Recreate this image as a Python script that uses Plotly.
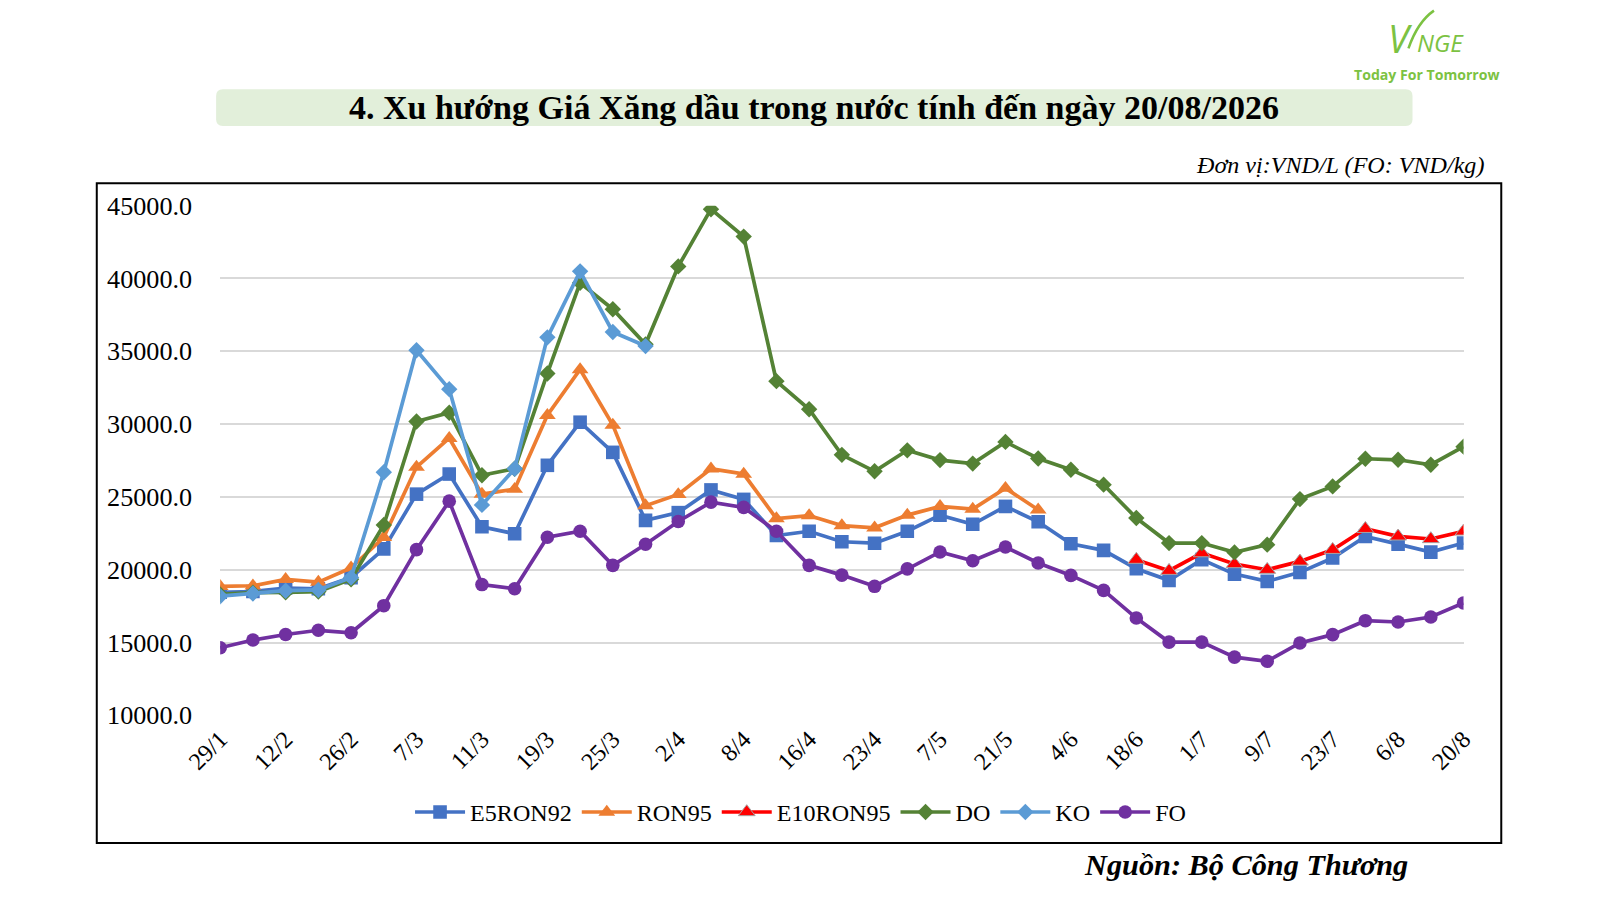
"""Xu hướng giá xăng dầu trong nước — biểu đồ đường"""

import plotly.graph_objects as go

W, H = 1600, 900

TICK_LABELS = ['29/1', '12/2', '26/2', '7/3', '11/3', '19/3', '25/3', '2/4', '8/4', '16/4',
               '23/4', '7/5', '21/5', '4/6', '18/6', '1/7', '9/7', '23/7', '6/8', '20/8']

E5RON92 = [18450, 18500, 18740, 18690, 19460, 21430, 25190, 26570, 22950, 22470,
           27170, 30130, 28060, 23390, 23920, 25480, 24830, 22350, 22640, 21920,
           21820, 22640, 23750, 23120, 24350, 23290, 21780, 21330, 20070, 19270,
           20690, 19700, 19200, 19820, 20800, 22290, 21760, 21210, 21830]

RON95 = [18860, 18900, 19340, 19150, 20130, 22230, 27050, 29030, 25190, 25530,
         30610, 33750, 29940, 24400, 25170, 26930, 26570, 23510, 23720, 23030,
         22880, 23750, 24350, 24160, 25600, 24120] + [None] * 13

E10RON95 = [None] * 28 + [20690, 19930, 21140, 20390, 20000, 20570, 21370, 22810,
                          22290, 22110, 22630]

DO = [18300, 18420, 18450, 18500, 19340, 23070, 30180, 30780, 26490, 26930,
      33480, 39700, 37890, 35480, 40830, 44760, 42880, 32950, 31020, 27890,
      26760, 28200, 27530, 27290, 28780, 27640, 26870, 25840, 23550, 21830,
      21830, 21190, 21720, 24850, 25720, 27620, 27550, 27210, 28450]

KO = [18180, 18370, 18560, 18610, 19460, 26690, 35070, 32400, 24450, 26930,
      35960, 40490, 36330, 35360] + [None] * 25

FO = [14640, 15170, 15550, 15840, 15670, 17530, 21380, 24710, 18980, 18690,
      22230, 22640, 20300, 21750, 23310, 24640, 24280, 22640, 20300, 19630,
      18860, 20060, 21220, 20620, 21560, 20460, 19610, 18580, 16680, 15030,
      15030, 14000, 13710, 14970, 15540, 16500, 16410, 16750, 17710]

SERIF = 'Liberation Serif'
GREEN = '#7cc242'

# hệ số hiệu chỉnh khung ảnh chụp
SX, OX, SY, OY = 0.9504, 36.4, 0.9476, 14.3


def px(x):
    return (x - OX) / SX / W


def py(y):
    return 1 - (y - OY) / SY / H


def fs(size):
    return round(size / 0.956, 1)


SERIES = [
    ('E5RON92', E5RON92, '#4472c4', dict(symbol='square', size=fs(13))),
    ('RON95', RON95, '#ed7d31', dict(symbol='triangle-up', size=fs(14))),
    ('E10RON95', E10RON95, '#ff0000', dict(symbol='triangle-up', size=fs(14),
                                           line=dict(color='#a5a5a5', width=1))),
    ('DO', DO, '#548235', dict(symbol='diamond', size=fs(12))),
    ('KO', KO, '#5b9bd5', dict(symbol='diamond', size=fs(12))),
    ('FO', FO, '#7030a0', dict(symbol='circle', size=fs(13))),
]

x_idx = list(range(len(E5RON92)))

fig = go.Figure()

for name, values, color, marker in SERIES:
    fig.add_trace(go.Scatter(
        x=x_idx,
        y=values,
        name=name,
        mode='lines+markers',
        line=dict(color=color, width=fs(3.5)),
        marker=dict(color=color, **marker),
        connectgaps=False,
    ))

# khung viền biểu đồ
fig.add_shape(type='rect', xref='paper', yref='paper',
              x0=px(95), x1=px(1472), y0=py(826), y1=py(180),
              line=dict(color='#000000', width=2), fillcolor='rgba(0,0,0,0)')

# nền tiêu đề bo góc
x0, x1, y0, y1 = px(212), px(1385), py(124), py(88)
rx, ry = 7 / W, 7 / H
path = (f'M {x0 + rx},{y0} L {x1 - rx},{y0} Q {x1},{y0} {x1},{y0 + ry} '
        f'L {x1},{y1 - ry} Q {x1},{y1} {x1 - rx},{y1} L {x0 + rx},{y1} '
        f'Q {x0},{y1} {x0},{y1 - ry} L {x0},{y0 + ry} Q {x0},{y0} {x0 + rx},{y0} Z')
fig.add_shape(type='path', xref='paper', yref='paper', path=path,
              fillcolor='#e2efda', line=dict(width=0), layer='below')

# logo swoosh
fig.add_shape(type='path', xref='paper', yref='paper',
              path=f'M {px(1381)},{py(48)} Q {px(1390)},{py(22)} {px(1406)},{py(11)}',
              line=dict(color=GREEN, width=2.5))

annotations = [
    dict(text='<b>4. Xu hướng Giá Xăng dầu trong nước tính đến ngày 20/08/2026</b>',
         x=px(798), y=py(106), font=dict(family=SERIF, size=fs(32.5), color='#000000')),
    dict(text='<i>Đơn vị:VND/L (FO: VND/kg)</i>', x=px(1457), y=py(162), xanchor='right',
         font=dict(family=SERIF, size=fs(23), color='#000000')),
    dict(text='<b><i>Nguồn: Bộ Công Thương</i></b>', x=px(1383), y=py(848), xanchor='right',
         font=dict(family=SERIF, size=fs(29), color='#000000')),
    dict(text='<i>V</i>', x=px(1373), y=py(38), font=dict(family='Open Sans', size=fs(36), color=GREEN)),
    dict(text='<i>NGE</i>', x=px(1412), y=py(42), font=dict(family='Open Sans', size=fs(23), color=GREEN)),
    dict(text='<b>Today For Tomorrow</b>', x=px(1399), y=py(74),
         font=dict(family='Open Sans', size=fs(13.5), color=GREEN)),
]
for a in annotations:
    a.setdefault('xanchor', 'center')
    fig.add_annotation(xref='paper', yref='paper', yanchor='middle', showarrow=False, **a)

fig.update_layout(
    width=W,
    height=H,
    margin=dict(l=0, r=0, t=0, b=0),
    plot_bgcolor='white',
    paper_bgcolor='white',
    font=dict(family=SERIF, color='#000000'),
    xaxis=dict(
        domain=[px(216), px(1435)],
        range=[0, len(x_idx) - 1],
        tickvals=x_idx[::2],
        ticktext=TICK_LABELS,
        tickangle=-45,
        tickfont=dict(family=SERIF, size=fs(23)),
        showgrid=False,
        zeroline=False,
        showline=False,
        ticklabelstandoff=4,
    ),
    yaxis=dict(
        domain=[py(701), py(202)],
        range=[10000, 45000],
        dtick=5000,
        tickformat='.1f',
        tickfont=dict(family=SERIF, size=fs(25)),
        showgrid=True,
        gridcolor='#d9d9d9',
        gridwidth=1.5,
        zeroline=False,
        showline=False,
        ticklabelstandoff=27,
    ),
    legend=dict(
        orientation='h',
        x=px(785),
        xanchor='center',
        y=py(796),
        yanchor='middle',
        font=dict(family=SERIF, size=fs(23)),
        itemwidth=50,
        tracegroupgap=0,
    ),
    showlegend=True,
)

fig.write_html('out.html', config={'displayModeBar': False},
               post_script="document.body.style.margin='0';document.body.style.overflow='hidden';")
